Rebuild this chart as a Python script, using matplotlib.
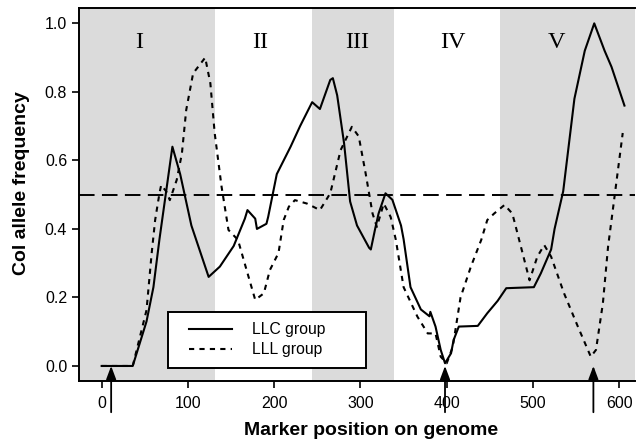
import matplotlib.pyplot as plt
from matplotlib.patches import Rectangle

# marker positions (x) and Col allele frequency for the two groups
llc_x = [0, 36, 52, 60, 67, 82, 91, 104, 124, 137, 153, 166, 169, 178, 180, 191, 193,
         203, 219, 230, 244, 253, 265, 268, 273, 281, 288, 296, 310, 312, 317, 321, 329,
         337, 347, 350, 358, 370, 380, 381, 387, 393, 398, 405, 408, 414, 436, 447, 459,
         469, 501, 509, 521, 525, 535, 548, 560, 571, 583, 591, 606]
llc_y = [0.0, 0.0, 0.13, 0.23, 0.37, 0.64, 0.56, 0.41, 0.26, 0.29, 0.35, 0.43, 0.455,
         0.43, 0.40, 0.415, 0.435, 0.56, 0.64, 0.70, 0.77, 0.75, 0.835, 0.84, 0.79, 0.65,
         0.48, 0.41, 0.345, 0.34, 0.40, 0.445, 0.504, 0.485, 0.41, 0.37, 0.23, 0.165,
         0.145, 0.158, 0.115, 0.047, 0.008, 0.037, 0.076, 0.115, 0.117, 0.154, 0.19,
         0.227, 0.23, 0.27, 0.34, 0.40, 0.51, 0.78, 0.92, 1.0, 0.92, 0.873, 0.76]

lll_x = [0, 36, 52, 58, 62, 67, 69, 75, 79, 87, 93, 98, 106, 120, 126, 131, 139, 147,
         158, 168, 178, 188, 195, 205, 211, 217, 224, 238, 253, 265, 277, 290, 298, 306,
         314, 319, 327, 335, 341, 350, 366, 378, 387, 393, 400, 407, 416, 428, 440, 447,
         455, 467, 476, 478, 486, 496, 505, 513, 521, 536, 552, 567, 573, 581, 587, 595,
         604]
lll_y = [0.0, 0.0, 0.163, 0.33, 0.426, 0.504, 0.528, 0.509, 0.484, 0.543, 0.62, 0.747,
         0.854, 0.90, 0.825, 0.68, 0.523, 0.397, 0.368, 0.28, 0.193, 0.212, 0.28, 0.33,
         0.426, 0.465, 0.484, 0.474, 0.455, 0.504, 0.63, 0.698, 0.67, 0.562, 0.445, 0.406,
         0.474, 0.435, 0.368, 0.23, 0.144, 0.095, 0.095, 0.027, 0.008, 0.056, 0.20, 0.29,
         0.368, 0.426, 0.445, 0.47, 0.445, 0.426, 0.348, 0.25, 0.319, 0.353, 0.319, 0.212,
         0.115, 0.027, 0.047, 0.183, 0.348, 0.504, 0.68]

# regions (shaded / white) and their labels
region_edges = [-30, 131, 244, 339, 462, 625]
region_shaded = [True, False, True, False, True]
region_names = ["I", "II", "III", "IV", "V"]
region_label_x = [44, 184, 296, 407, 527]

arrow_x = [11, 398, 570]

fig = plt.figure(figsize=(6.41, 4.47), dpi=100)
ax = fig.add_axes([0.1232, 0.1477, 0.8674, 0.8343])

for i in range(len(region_names)):
    if region_shaded[i]:
        ax.axvspan(region_edges[i], region_edges[i + 1], color="#dbdbdb", lw=0, zorder=0)
    ax.text(region_label_x[i], 0.945, region_names[i], ha="center", va="center",
            fontsize=17.5, family="Liberation Serif")

ax.axhline(0.5, color="black", lw=1.4, ls=(0, (8, 3.8)), zorder=1)

ax.plot(llc_x, llc_y, color="black", lw=1.5, label="LLC group", zorder=3)
ax.plot(lll_x, lll_y, color="black", lw=1.5, ls=(0, (2.5, 2.5)), label="LLL group", zorder=2)

for x in arrow_x:
    ax.annotate("", xy=(x, 0.0), xytext=(x, -0.135), annotation_clip=False,
                arrowprops=dict(arrowstyle="-|>,head_length=0.8,head_width=0.3",
                                color="black", lw=1.3, shrinkA=0, shrinkB=0))

ax.set_xlim(-26.3, 618.2)
ax.set_ylim(-0.0438, 1.0447)
ax.set_xticks([0, 100, 200, 300, 400, 500, 600])
ax.set_yticks([0.0, 0.2, 0.4, 0.6, 0.8, 1.0])
ax.set_yticklabels(["0.0", "0.2", "0.4", "0.6", "0.8", "1.0"])
ax.tick_params(labelsize=11.5, length=5, width=1.2, direction="out")
ax.tick_params(axis="x", pad=6)
for lab in ax.get_xticklabels() + ax.get_yticklabels():
    lab.set_family("Liberation Sans")

ax.spines["right"].set_visible(False)
for s in ["left", "top", "bottom"]:
    ax.spines[s].set_linewidth(1.4)

ax.set_xlabel("Marker position on genome", fontsize=14, fontweight="bold",
              family="Liberation Sans")
ax.set_ylabel("Col allele frequency", fontsize=14, fontweight="bold",
              family="Liberation Sans")
ax.xaxis.set_label_coords(0.525, -0.110)
ax.yaxis.set_label_coords(-0.088, 0.53)

# legend box drawn by hand so the padding matches
ax.add_patch(Rectangle((0.160, 0.035), 0.356, 0.150, transform=ax.transAxes,
                       facecolor="white", edgecolor="black", lw=1.4, zorder=4))
ax.legend(loc="upper left", bbox_to_anchor=(0.198, 0.157), frameon=False,
          borderpad=0, borderaxespad=0, handlelength=2.74, handletextpad=1.27,
          labelspacing=0.3, prop={"family": "Liberation Sans", "size": 11.3})

fig.savefig("out.png", dpi=100)
